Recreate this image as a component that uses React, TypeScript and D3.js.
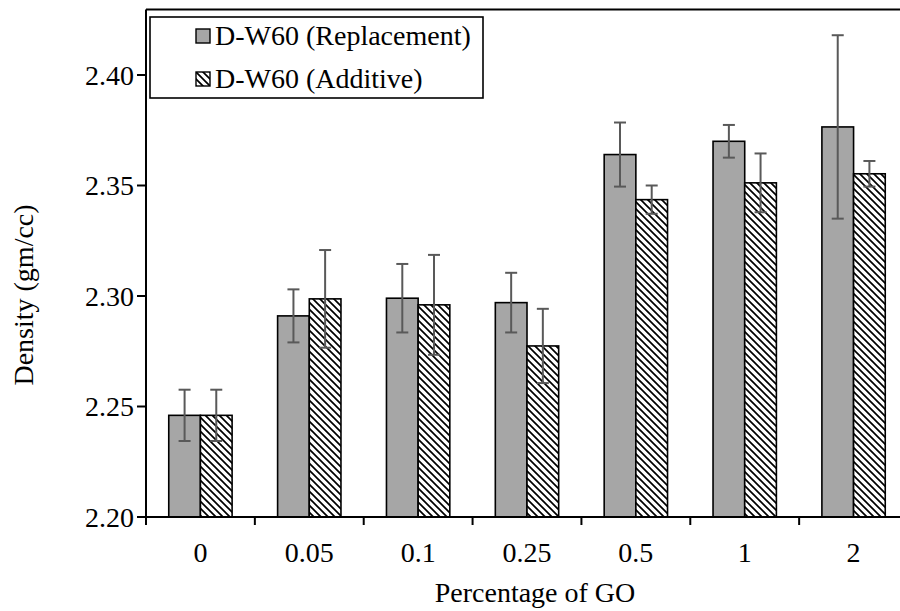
import React from "react";
import * as d3 from "d3";

// data
const categories = ["0", "0.05", "0.1", "0.25", "0.5", "1", "2"];
const seriesNames = ["D-W60 (Replacement)", "D-W60 (Additive)"];
const replacement = [2.246, 2.291, 2.299, 2.297, 2.364, 2.37, 2.3765];
const replacementErr = [0.0116, 0.012, 0.0155, 0.0135, 0.0145, 0.0074, 0.0415];
const additive = [2.246, 2.2987, 2.296, 2.2774, 2.3436, 2.3512, 2.3553];
const additiveErr = [0.0116, 0.0221, 0.0226, 0.0168, 0.0064, 0.0133, 0.0058];
const yTicks = [2.2, 2.25, 2.3, 2.35, 2.4];

const W = 900;
const H = 611;
const left = 146;
const bottom = 517;
const plotTop = 9.5;
const font = "'Liberation Serif', 'Times New Roman', serif";

const App = () => {
  const y = d3.scaleLinear().domain([2.2, 2.4]).range([bottom, 75]);
  const x = d3.scaleBand<string>().domain(categories).range([left, 908]);
  const bw = x.bandwidth();
  const barW = bw * 0.291;
  const x1 = d3
    .scaleBand<number>()
    .domain([0, 1])
    .range([(bw - 2 * barW) / 2, (bw + 2 * barW) / 2]);

  const series = [
    { values: replacement, errs: replacementErr, fill: "#a6a6a6" },
    { values: additive, errs: additiveErr, fill: "url(#hatch)" },
  ];

  const tickEdges = d3.range(categories.length + 1).map((i) => left + i * bw);

  return (
    <svg
      width={W}
      height={H}
      style={{ position: "absolute", left: 0, top: 0, background: "#fff" }}
      fontFamily={font}
    >
      <defs>
        <pattern id="hatch" patternUnits="userSpaceOnUse" width={7} height={7}>
          <rect width={7} height={7} fill="#fff" />
          <path
            d="M0,0 L7,7 M-1,6 L1,8 M6,-1 L8,1"
            stroke="#000"
            strokeWidth={1.7}
          />
        </pattern>
      </defs>

      {/* bars */}
      {series.map((s, si) =>
        categories.map((c, i) => {
          const bx = (x(c) ?? 0) + (x1(si) ?? 0);
          const by = y(s.values[i]);
          return (
            <rect
              key={`b${si}-${i}`}
              x={bx}
              y={by}
              width={x1.bandwidth()}
              height={bottom - by}
              fill={s.fill}
              stroke="#000"
              strokeWidth={1.6}
            />
          );
        })
      )}

      {/* error bars */}
      {series.map((s, si) =>
        categories.map((c, i) => {
          const cx = (x(c) ?? 0) + (x1(si) ?? 0) + x1.bandwidth() / 2;
          const hi = y(s.values[i] + s.errs[i]);
          const lo = y(s.values[i] - s.errs[i]);
          return (
            <g key={`e${si}-${i}`} stroke="#595959" strokeWidth={2}>
              <line x1={cx} x2={cx} y1={hi} y2={lo} />
              <line x1={cx - 6} x2={cx + 6} y1={hi} y2={hi} />
              <line x1={cx - 6} x2={cx + 6} y1={lo} y2={lo} />
            </g>
          );
        })
      )}

      {/* plot frame and axes */}
      <line x1={left} x2={W} y1={plotTop} y2={plotTop} stroke="#000" strokeWidth={2} />
      <line x1={left} x2={left} y1={plotTop} y2={bottom} stroke="#000" strokeWidth={2} />
      <line x1={left - 8} x2={W} y1={bottom} y2={bottom} stroke="#000" strokeWidth={2} />

      {/* y ticks */}
      {yTicks.map((t) => (
        <g key={t}>
          <line x1={left - 9} x2={left} y1={y(t)} y2={y(t)} stroke="#000" strokeWidth={2} />
          <text
            x={134}
            y={y(t)}
            dy="0.34em"
            textAnchor="end"
            fontSize={28}
            fill="#000"
          >
            {d3.format(".2f")(t)}
          </text>
        </g>
      ))}

      {/* x ticks */}
      {tickEdges.map((tx, i) => (
        <line key={i} x1={tx} x2={tx} y1={bottom} y2={bottom + 8} stroke="#000" strokeWidth={2} />
      ))}
      {categories.map((c) => (
        <text
          key={c}
          x={(x(c) ?? 0) + bw / 2}
          y={562}
          textAnchor="middle"
          fontSize={28}
          fill="#000"
        >
          {c}
        </text>
      ))}

      {/* axis titles */}
      <text x={535} y={602} textAnchor="middle" fontSize={28} fill="#000">
        Percentage of GO
      </text>
      <text
        transform={`translate(33, 295) rotate(-90)`}
        textAnchor="middle"
        fontSize={28}
        fill="#000"
      >
        Density (gm/cc)
      </text>

      {/* legend */}
      <rect x={150} y={17} width={333} height={81} fill="#fff" stroke="#000" strokeWidth={1.6} />
      {seriesNames.map((name, i) => (
        <g key={name} transform={`translate(196, ${29 + i * 43})`}>
          <rect
            width={14}
            height={14}
            fill={series[i].fill}
            stroke="#000"
            strokeWidth={1.4}
          />
          <text x={19} y={16} fontSize={28} fill="#000">
            {name}
          </text>
        </g>
      ))}
    </svg>
  );
};

export default App;
